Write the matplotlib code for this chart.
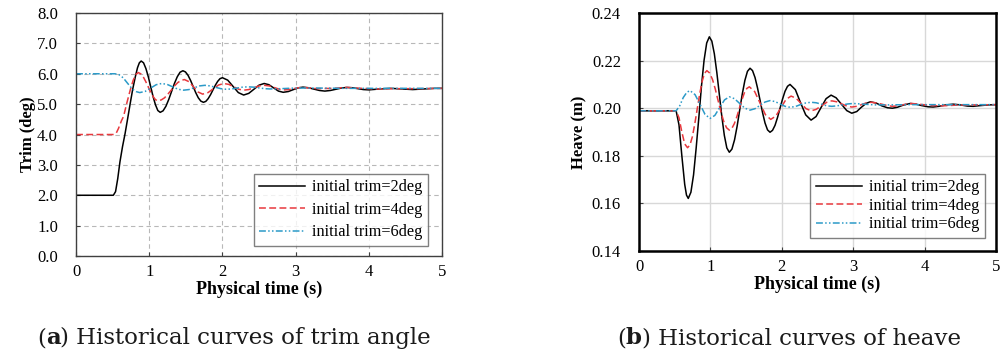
import numpy as np
import matplotlib
matplotlib.use('Agg')
import matplotlib.pyplot as plt

plt.rcParams['font.family'] = ['Liberation Serif', 'DejaVu Serif']

labels = ['initial trim=2deg', 'initial trim=4deg', 'initial trim=6deg']

# (a) trim angle (deg)
t_trim2 = [0, 0.51, 0.54, 0.57, 0.60, 0.635, 0.67, 0.705, 0.74, 0.775, 0.81, 0.84, 0.865, 0.89,
           0.9225, 0.955, 0.9875, 1.02, 1.0525, 1.085, 1.1175, 1.15,
           1.189, 1.228, 1.266, 1.305, 1.344, 1.383, 1.421, 1.46,
           1.495, 1.53, 1.565, 1.60, 1.635, 1.67, 1.705, 1.74,
           1.7725, 1.805, 1.8375, 1.87, 1.9025, 1.935, 1.9675, 2.00,
           2.0725, 2.145, 2.2175, 2.29, 2.36, 2.43, 2.50, 2.57, 2.635, 2.70, 2.765, 2.83,
           2.90, 2.965, 3.035, 3.10, 3.175, 3.25, 3.325, 3.40, 3.475, 3.55, 3.625, 3.70,
           3.775, 3.85, 3.925, 4.00, 4.15, 4.30, 4.45, 4.60, 4.75, 4.90, 5.00]
trim2 = [2.0, 2.0, 2.12, 2.55, 3.1, 3.6, 4.03, 4.52, 5.02, 5.5, 5.9, 6.2, 6.36, 6.42,
         6.36, 6.17, 5.90, 5.575, 5.25, 4.98, 4.79, 4.73,
         4.78, 4.93, 5.15, 5.415, 5.68, 5.90, 6.05, 6.10,
         6.06, 5.95, 5.78, 5.58, 5.38, 5.21, 5.10, 5.06,
         5.09, 5.18, 5.31, 5.465, 5.62, 5.75, 5.84, 5.87,
         5.79, 5.585, 5.38, 5.30, 5.355, 5.49, 5.625, 5.68, 5.64, 5.535, 5.43, 5.39,
         5.415, 5.475, 5.535, 5.56, 5.54, 5.495, 5.45, 5.43, 5.45, 5.49, 5.53, 5.55,
         5.54, 5.51, 5.48, 5.47, 5.50, 5.52, 5.50, 5.48, 5.50, 5.52, 5.52]

t_trim4 = [0, 0.52, 0.55, 0.58, 0.62, 0.65, 0.69, 0.74, 0.78, 0.815, 0.85,
           0.884, 0.918, 0.951, 0.985, 1.019, 1.053, 1.086, 1.12,
           1.165, 1.21, 1.255, 1.30, 1.345, 1.39, 1.435, 1.48,
           1.5425, 1.605, 1.6675, 1.73, 1.8025, 1.875, 1.9475, 2.02,
           2.0875, 2.155, 2.2225, 2.29, 2.36, 2.43, 2.50, 2.57, 2.64, 2.71, 2.78, 2.85,
           2.91, 2.975, 3.04, 3.10, 3.30, 3.50, 3.70, 3.90, 4.10, 4.40, 4.70, 5.00]
trim4 = [4.0, 4.0, 4.05, 4.2, 4.45, 4.6, 5.0, 5.46, 5.78, 5.97, 6.04,
         6.00, 5.90, 5.75, 5.575, 5.40, 5.25, 5.145, 5.11,
         5.14, 5.21, 5.33, 5.46, 5.60, 5.71, 5.78, 5.81,
         5.74, 5.57, 5.40, 5.33, 5.38, 5.505, 5.63, 5.68,
         5.65, 5.57, 5.49, 5.46, 5.48, 5.54, 5.60, 5.62, 5.60, 5.545, 5.49, 5.47,
         5.48, 5.51, 5.54, 5.55, 5.51, 5.52, 5.55, 5.52, 5.50, 5.51, 5.51, 5.52]

t_trim6 = [0, 0.53, 0.58, 0.62, 0.66, 0.70, 0.74, 0.78, 0.825, 0.87,
           0.945, 1.02, 1.095, 1.17, 1.245, 1.32, 1.395, 1.47,
           1.5425, 1.615, 1.6875, 1.76, 1.8325, 1.905, 1.9775, 2.05,
           2.125, 2.20, 2.275, 2.35, 2.425, 2.50, 2.575, 2.65,
           2.80, 3.00, 3.30, 3.70, 4.20, 5.00]
trim6 = [6.0, 6.0, 5.98, 5.92, 5.82, 5.70, 5.58, 5.48, 5.41, 5.38,
         5.42, 5.53, 5.64, 5.68, 5.65, 5.57, 5.49, 5.46,
         5.48, 5.54, 5.60, 5.62, 5.60, 5.555, 5.51, 5.49,
         5.50, 5.53, 5.56, 5.57, 5.56, 5.535, 5.51, 5.50,
         5.51, 5.53, 5.53, 5.52, 5.52, 5.52]

# (b) heave (m)
t_heave2 = [0, 0.52, 0.56, 0.60, 0.64, 0.665, 0.69,
            0.727, 0.764, 0.80, 0.838, 0.874, 0.911, 0.948, 0.985,
            1.02, 1.055, 1.09, 1.125, 1.16, 1.195, 1.23, 1.265,
            1.301, 1.338, 1.374, 1.41, 1.446, 1.483, 1.519, 1.555,
            1.59, 1.625, 1.66, 1.695, 1.73, 1.765, 1.80, 1.835,
            1.87, 1.905, 1.94, 1.975, 2.01, 2.045, 2.08, 2.115,
            2.19, 2.26, 2.335, 2.41, 2.48, 2.55, 2.62, 2.69, 2.76, 2.835, 2.91, 2.98,
            3.05, 3.11, 3.18, 3.24, 3.32, 3.40, 3.48, 3.55, 3.62, 3.70, 3.80, 3.88, 3.96,
            4.05, 4.12, 4.20, 4.30, 4.40, 4.50, 4.60, 4.68, 4.78, 4.90, 5.00]
heave2 = [0.1989, 0.1989, 0.193, 0.180, 0.168, 0.1635, 0.1621,
          0.1647, 0.1720, 0.1831, 0.1961, 0.2090, 0.2201, 0.2274, 0.2300,
          0.2282, 0.2229, 0.2150, 0.2058, 0.1965, 0.1886, 0.1833, 0.1815,
          0.1828, 0.1867, 0.1924, 0.1992, 0.2059, 0.2117, 0.2155, 0.2168,
          0.2158, 0.2129, 0.2085, 0.2034, 0.1982, 0.1938, 0.1909, 0.1899,
          0.1907, 0.1928, 0.1961, 0.2000, 0.2038, 0.2071, 0.2092, 0.2100,
          0.2078, 0.2025, 0.1972, 0.1950, 0.1965, 0.2003, 0.2040, 0.2055, 0.2044, 0.2017, 0.1990, 0.1979,
          0.1986, 0.2003, 0.2020, 0.2027, 0.2022, 0.2010, 0.2002, 0.2000, 0.2004, 0.2013, 0.2020, 0.2017, 0.2011,
          0.2006, 0.2005, 0.2008, 0.2014, 0.2017, 0.2014, 0.2009, 0.2008, 0.2011, 0.2014, 0.2015]

t_heave4 = [0, 0.52, 0.56, 0.60, 0.64, 0.68,
            0.714, 0.748, 0.781, 0.815, 0.849, 0.883, 0.916, 0.95,
            0.989, 1.029, 1.068, 1.107, 1.147, 1.186, 1.226, 1.265,
            1.30, 1.335, 1.37, 1.405, 1.44, 1.475, 1.51, 1.545,
            1.62, 1.695, 1.77, 1.845, 1.916, 1.988, 2.059, 2.13,
            2.20, 2.27, 2.34, 2.41, 2.48, 2.555, 2.63, 2.70, 2.77, 2.84, 2.91, 2.98,
            3.05, 3.115, 3.18, 3.25, 3.33, 3.40, 3.48, 3.55, 3.62, 3.69, 3.75, 3.82,
            3.95, 4.10, 4.25, 4.45, 4.70, 5.00]
heave4 = [0.1989, 0.1989, 0.1960, 0.1900, 0.1850, 0.1834,
          0.1846, 0.1881, 0.1934, 0.1996, 0.2058, 0.2111, 0.2146, 0.2158,
          0.2148, 0.2121, 0.2081, 0.2033, 0.1985, 0.1945, 0.1918, 0.1908,
          0.1915, 0.1935, 0.1964, 0.1999, 0.2034, 0.2064, 0.2083, 0.2090,
          0.2070, 0.2022, 0.1973, 0.1953, 0.1967, 0.2002, 0.2037, 0.2051,
          0.2042, 0.2020, 0.1998, 0.1989, 0.1995, 0.2010, 0.2025, 0.2031, 0.2027, 0.2018, 0.2009, 0.2005,
          0.2008, 0.2015, 0.2022, 0.2025, 0.2022, 0.2017, 0.2011, 0.2008, 0.2010, 0.2014, 0.2018, 0.2020,
          0.2016, 0.2011, 0.2010, 0.2013, 0.2014, 0.2015]

t_heave6 = [0, 0.52, 0.57, 0.62, 0.67, 0.715, 0.785, 0.855, 0.925, 0.995,
            1.063, 1.13, 1.198, 1.265, 1.338, 1.41, 1.483, 1.555,
            1.625, 1.695, 1.765, 1.835, 1.905, 1.975, 2.045, 2.115,
            2.19, 2.26, 2.335, 2.41, 2.48, 2.555, 2.63, 2.70,
            2.775, 2.85, 2.925, 3.00, 3.15, 3.30, 3.50, 3.80, 5.00]
heave6 = [0.1989, 0.1989, 0.2010, 0.2045, 0.2067, 0.2074, 0.2057, 0.2016, 0.1974, 0.1957,
          0.1970, 0.2003, 0.2035, 0.2048, 0.2040, 0.2020, 0.2000, 0.1992,
          0.1998, 0.2012, 0.2026, 0.2032, 0.2028, 0.2018, 0.2008, 0.2004,
          0.2007, 0.2015, 0.2022, 0.2025, 0.2023, 0.2017, 0.2010, 0.2008,
          0.2010, 0.2014, 0.2018, 0.2020, 0.2017, 0.2014, 0.2014, 0.2015, 0.2015]

colors = ['black', '#e8383d', '#2b9ac8']
styles = ['-', (0, (4.5, 2.2)), (0, (4.5, 1.5, 1, 1.5, 1, 1.5))]

fig = plt.figure(figsize=(10.03, 3.52), dpi=100)
ax1 = fig.add_axes([0.0758, 0.2727, 0.3649, 0.6903])
ax2 = fig.add_axes([0.6371, 0.2869, 0.3559, 0.6761])

for t, y, c, s, lab in zip([t_trim2, t_trim4, t_trim6], [trim2, trim4, trim6], colors, styles, labels):
    ax1.plot(t, y, color=c, linestyle=s, lw=1.1, label=lab)
for t, y, c, s, lab in zip([t_heave2, t_heave4, t_heave6], [heave2, heave4, heave6], colors, styles, labels):
    ax2.plot(t, y, color=c, linestyle=s, lw=1.1, label=lab)

ax1.set_xlim(0, 5)
ax1.set_ylim(0, 8)
ax1.set_yticks(np.arange(0, 8.1, 1.0))
ax1.set_yticklabels(['%.1f' % v for v in np.arange(0, 8.1, 1.0)])
ax1.grid(True, linestyle=(0, (4, 3)), color='#b8b8b8', lw=0.8)
ax1.set_ylabel('Trim (deg)', fontsize=12, fontweight='bold', labelpad=1)
for sp in ax1.spines.values():
    sp.set_color('#404040')
    sp.set_linewidth(1.0)

ax2.set_xlim(0, 5)
ax2.set_ylim(0.14, 0.24)
ax2.set_yticks([0.14, 0.16, 0.18, 0.20, 0.22, 0.24])
ax2.set_yticklabels(['0.14', '0.16', '0.18', '0.20', '0.22', '0.24'])
ax2.grid(True, linestyle='-', color='#d8d8d8', lw=1.0)
ax2.set_ylabel('Heave (m)', fontsize=12, fontweight='bold', labelpad=3)
for sp in ax2.spines.values():
    sp.set_color('black')
    sp.set_linewidth(1.8)

for ax in (ax1, ax2):
    ax.set_axisbelow(True)
    ax.set_xticks([0, 1, 2, 3, 4, 5])
    ax.tick_params(direction='in', length=3, labelsize=12, color='#404040')
    ax.tick_params(axis='x', pad=6)
    ax.tick_params(axis='y', pad=13)
    ax.set_xlabel('Physical time (s)', fontsize=13, fontweight='bold', labelpad=0)

leg_kw = dict(loc='lower right', fontsize=11.7, frameon=True, fancybox=False, edgecolor='#606060',
              handlelength=2.8, borderpad=0.35, handletextpad=0.45, borderaxespad=0)
ax1.legend(bbox_to_anchor=(0.962, 0.041), labelspacing=0.4, **leg_kw)
ax2.legend(bbox_to_anchor=(0.969, 0.055), labelspacing=0.15, **leg_kw)
for lg in (ax1.get_legend(), ax2.get_legend()):
    lg.get_frame().set_linewidth(1.0)

# captions: "(", bold letter, rest, placed one after the other on one baseline
fig.canvas.draw()
renderer = fig.canvas.get_renderer()


def caption(x_px, y_px, letter, rest):
    x = x_px
    for txt, weight in [('(', 'normal'), (letter, 'bold'), (rest, 'normal')]:
        tx = fig.text(x / 1003, 1 - y_px / 352, txt, fontsize=16.5, fontweight=weight,
                      family='DejaVu Serif', color='#1a1a1a', ha='left', va='baseline')
        x += tx.get_window_extent(renderer).width


caption(37, 344, 'a', ') Historical curves of trim angle')
caption(617, 344, 'b', ') Historical curves of heave')

fig.savefig('out.png', dpi=100)
